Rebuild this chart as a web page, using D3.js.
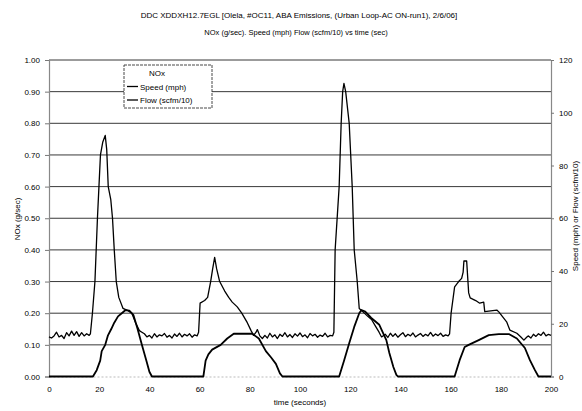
<!DOCTYPE html>
<html>
<head>
<meta charset="utf-8">
<script src="https://cdn.jsdelivr.net/npm/d3@7"></script>
<style>
  body { margin: 0; background: #fff; }
  svg { font-family: "Liberation Sans", Arial, sans-serif; }
  .tick-label { font-size: 8px; fill: #000; }
  .axis-title { font-size: 8px; fill: #000; }
</style>
</head>
<body>
<svg id="chart" width="582" height="411"></svg>
<script>
// values (time in sec, speed in mph, flow in scfm/10)
let titleText = "DDC XDDXH12.7EGL [Olela, #OC11, ABA Emissions, (Urban Loop-AC ON-run1), 2/6/06]";
let subtitleText = "NOx (g/sec). Speed (mph)  Flow (scfm/10) vs time (sec)";

let timeTicks = [0, 20, 40, 60, 80, 100, 120, 140, 160, 180, 200];
let leftTicks = [0, 0.1, 0.2, 0.3, 0.4, 0.5, 0.6, 0.7, 0.8, 0.9, 1.0];
let rightTicks = [0, 20, 40, 60, 80, 100, 120];
let legendNames = ["NOx", "Speed (mph)", "Flow (scfm/10)"];

let speedPoints = [
  [0, 0], [17.5, 0], [19, 2.4], [20.4, 6], [21, 9.6], [22.4, 12], [23.5, 15.6],
  [24.8, 18], [26, 20.4], [27.5, 22.8], [29, 24], [30.5, 25.2], [32, 25],
  [33.6, 23.4], [35.3, 18], [37, 12], [38.8, 6], [40, 1.8], [41, 0],
  [61.5, 0], [62.4, 6], [63.5, 8.4], [65, 10.2], [68.4, 12], [71, 14.4],
  [73.6, 16.2], [81, 16.2], [83.6, 14.4], [86.4, 9.6], [88.5, 7.2], [90.4, 4.8],
  [92, 1.2], [93, 0],
  [115.6, 0], [117.6, 6.2], [119.6, 12.6], [121.6, 18.8], [123.6, 24], [124.5, 25.2],
  [126, 24.6], [128.4, 22.2], [131.6, 19.6], [134.4, 13.8], [135.6, 8.9],
  [137.2, 3.6], [138.4, 0.6], [139, 0],
  [161.6, 0], [163.6, 6.2], [165.6, 11.2], [167.2, 12], [171.2, 13.8], [175.2, 15.7],
  [179.2, 16.1], [183.2, 16.1], [186.4, 14.4], [189.6, 10.8], [191.6, 6.2],
  [193.6, 2.4], [195, 0], [200, 0]
];

let flowPoints = [
  [0, 15.0], [1, 14.6], [2, 15.4], [3, 16.8], [4, 15.0], [5, 15.6], [6, 14.4],
  [7, 16.6], [8, 15.4], [9, 17.2], [10, 15.6], [11, 17.0], [12, 15.2], [13, 16.6],
  [14, 15.4], [15, 16.2], [16, 15.6], [16.5, 16.2],
  [17.3, 24], [18.3, 36], [19.3, 60], [19.9, 72], [20.5, 84], [21.4, 88.8], [22.4, 91.4],
  [23, 86], [23.6, 72], [24.6, 67.2], [25.3, 60], [26, 48], [26.8, 36], [27.8, 30],
  [29.5, 25.8], [31, 25.2], [33, 24], [34.5, 20.4], [36, 17.4], [37, 16.8],
  [38, 16.2], [39, 15.0], [40, 15.6], [41, 14.6], [42, 16.2], [43, 15.0], [44, 15.8],
  [45, 15.4], [46, 16.3], [47, 14.9], [48, 15.6], [49, 14.6], [50, 16.1], [51, 15.2],
  [52, 16.4], [53, 15.0], [54, 16.0], [55, 15.4], [56, 16.2], [57, 14.9], [58, 15.8],
  [59, 15.4], [59.6, 16.8],
  [60.2, 27.8], [62, 28.8], [63.2, 30], [64.4, 36], [65.2, 40.8], [66, 45.2],
  [66.8, 40.8], [68, 36], [70, 32.4], [71.6, 30], [73, 28.2], [75, 26.4],
  [76.8, 24], [79, 20.4], [80.5, 17.4], [81.5, 15.6], [82.5, 16.8], [83, 17.8],
  [84, 15.4], [85, 14.4],
  [86, 15.6], [87, 14.6], [88, 16.4], [89, 15.0], [90, 15.8], [91, 14.4], [92, 16.0],
  [93, 15.2], [94, 16.6], [95, 15.0], [96, 15.9], [97, 14.8], [98, 16.2], [99, 15.3],
  [100, 16.5], [101, 15.1], [102, 15.8], [103, 14.7], [104, 16.3], [105, 15.4],
  [106, 16.0], [107, 14.9], [108, 15.7], [109, 15.2], [110, 16.4], [111, 15.0],
  [112, 15.6], [113, 15.4], [113.5, 16.8],
  [114, 48], [115.6, 72], [116.4, 96], [117, 108], [117.5, 111.1], [118.2, 108],
  [119.6, 96], [120.8, 72], [121.6, 48], [122.8, 36], [123.6, 25.8], [125, 24.6],
  [127, 22.8], [128.5, 21.6], [130, 19.2], [131.5, 16.8], [132.5, 15],
  [134, 16.0], [135, 14.8], [136, 16.4], [137, 15.2], [138, 16.2], [139, 14.9],
  [140, 15.8], [141, 16.6], [142, 15.1], [143, 16.0], [144, 15.4], [145, 16.5],
  [146, 15.0], [147, 15.7], [148, 16.3], [149, 15.2], [150, 16.0], [151, 15.4],
  [152, 16.7], [153, 15.3], [154, 16.1], [155, 15.5], [156, 16.4], [157, 15.2],
  [158, 15.8], [159, 15.4], [159.6, 16.2],
  [160.2, 24], [161.6, 34], [163.2, 36], [164.4, 37.2], [165, 39.6], [165.3, 43.8],
  [166.4, 43.8], [167.2, 31.7], [167.8, 29.8], [170, 28.8], [171.6, 27.8],
  [173.2, 28.2], [173.6, 24.6], [178.4, 25.2], [179.2, 24.5], [182.4, 20.6],
  [183.6, 17.6], [186.4, 16.4], [188, 15], [189.2, 13.8], [190.4, 15],
  [191, 15.4], [192, 14.6], [193, 16.0], [194, 15.2], [195, 16.2], [196, 15.6],
  [197, 16.8], [198, 15.4], [199, 16.0], [200, 15.6]
];

let drawChart = function() {
  let svg = d3.select("svg#chart");

  const margin = { top: 60, bottom: 34.5, left: 49, right: 31 };
  const width = 582;
  const height = 411;
  let plotWidth = width - margin.left - margin.right;
  let plotHeight = height - margin.top - margin.bottom;

  let xScale = d3.scaleLinear().domain([0, 200]).range([0, plotWidth]);
  let yLeft = d3.scaleLinear().domain([0, 1]).range([plotHeight, 0]);
  let yRight = d3.scaleLinear().domain([0, 120]).range([plotHeight, 0]);

  // titles
  svg.append("text").attr("class", "axis-title")
    .attr("x", 299).attr("y", 18).attr("text-anchor", "middle")
    .style("font-size", "8px").text(titleText);
  svg.append("text").attr("class", "axis-title")
    .attr("x", 296).attr("y", 35).attr("text-anchor", "middle")
    .style("font-size", "7.5px").text(subtitleText);

  const plot = svg.append("g").attr("transform", translate(margin.left, margin.top));

  // horizontal gridlines
  plot.append("g").selectAll("line")
    .data(leftTicks.filter(d => d > 0))
    .join("line")
    .attr("x1", 0).attr("x2", plotWidth)
    .attr("y1", d => yLeft(d)).attr("y2", d => yLeft(d))
    .attr("stroke", "#222").attr("stroke-width", 0.9);

  // left axis
  let yAxis = d3.axisLeft(yLeft).tickValues(leftTicks)
    .tickFormat(d3.format(".2f")).tickSize(4).tickPadding(5);
  let yGroup = plot.append("g").call(yAxis);
  styleAxis(yGroup);

  // right axis
  let yAxisR = d3.axisRight(yRight).tickValues(rightTicks).tickSize(3).tickPadding(5);
  let yGroupR = plot.append("g").attr("transform", translate(plotWidth, 0)).call(yAxisR);
  styleAxis(yGroupR);

  // bottom axis (labels only)
  let xAxis = d3.axisBottom(xScale).tickValues(timeTicks).tickSize(0).tickPadding(10);
  let xGroup = plot.append("g").attr("transform", translate(0, plotHeight)).call(xAxis);
  styleAxis(xGroup);
  xGroup.select(".domain").attr("stroke", "#bbb").attr("stroke-dasharray", "2,2");

  let line = d3.line()
    .x(d => xScale(d[0]))
    .y(d => yRight(d[1]));

  plot.append("path").datum(speedPoints)
    .attr("d", line).attr("fill", "none")
    .attr("stroke", "#000").attr("stroke-width", 1.8).attr("stroke-linejoin", "round");

  plot.append("path").datum(flowPoints)
    .attr("d", line).attr("fill", "none")
    .attr("stroke", "#000").attr("stroke-width", 1.3).attr("stroke-linejoin", "round");

  // axis titles
  svg.append("text").attr("class", "axis-title")
    .attr("transform", translate(20, 219) + " rotate(-90)")
    .attr("text-anchor", "middle").text("NOx (g/sec)");
  svg.append("text").attr("class", "axis-title")
    .attr("transform", translate(578, 216) + " rotate(-90)")
    .attr("text-anchor", "middle").text("Speed (mph) or Flow (scfm/10)");
  svg.append("text").attr("class", "axis-title")
    .attr("x", margin.left + midpoint(xScale.range())).attr("y", 405)
    .attr("text-anchor", "middle").text("time (seconds)");

  // legend
  const legend = svg.append("g").attr("transform", translate(124, 65));
  legend.append("rect")
    .attr("width", 88).attr("height", 43)
    .attr("fill", "#fff").attr("stroke", "#333").attr("stroke-width", 0.9)
    .attr("stroke-dasharray", "3,1");
  legendNames.forEach(function(name, i) {
    let y = 8 + i * 13.5;
    if (i > 0) {
      legend.append("line")
        .attr("x1", 3).attr("x2", 14).attr("y1", y).attr("y2", y)
        .attr("stroke", "#000").attr("stroke-width", 1.3);
    }
    legend.append("text").attr("class", "axis-title")
      .attr("x", i === 0 ? 25 : 16).attr("y", y + 3)
      .text(name);
  });
};

function styleAxis(group) {
  group.selectAll("text").attr("class", "tick-label")
    .style("font-size", "8px").attr("fill", "#000");
  group.selectAll(".tick line").attr("stroke", "#777");
  group.select(".domain").attr("stroke", "#888").attr("stroke-width", 1.2);
}

function midpoint(range) {
  return range[0] + (range[1] - range[0]) / 2.0;
}

function translate(x, y) {
  return "translate(" + String(x) + "," + String(y) + ")";
}

drawChart();
</script>
</body>
</html>
